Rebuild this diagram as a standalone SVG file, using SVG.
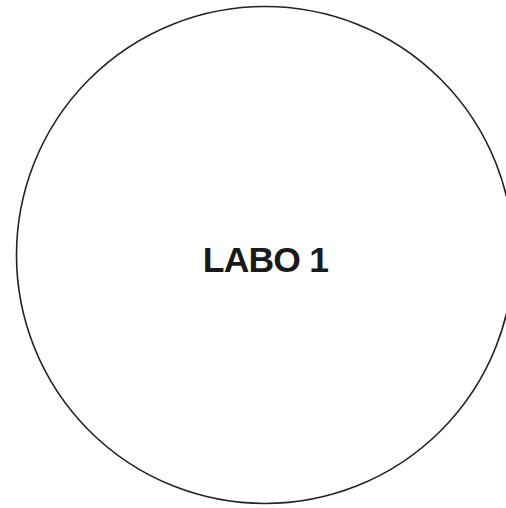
<svg xmlns="http://www.w3.org/2000/svg" width="506" height="508" viewBox="0 0 506 508">
<style>
.node{fill:#ffffff;stroke:#222222;stroke-width:1.6}
.label{font-family:"Liberation Sans",Arial,Helvetica,sans-serif;font-weight:bold;font-size:35.5px;fill:#1a1a1a;letter-spacing:-0.8px}
</style>
<rect width="506" height="508" fill="#ffffff"/>
<g id="connectors"></g>
<g id="labo1">
<circle class="node" cx="265" cy="255" r="248.5"/>
<text class="label" x="265.5" y="271.5" text-anchor="middle">LABO 1</text>
</g>
</svg>
